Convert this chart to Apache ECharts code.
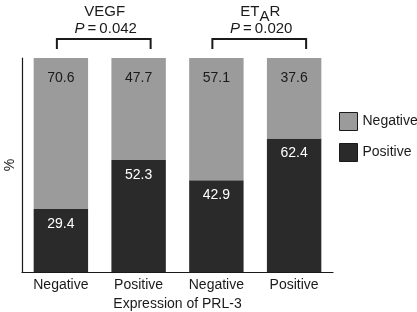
<!DOCTYPE html>
<html>
<head>
<meta charset="utf-8">
<script src="https://cdn.jsdelivr.net/npm/echarts@6/dist/echarts.min.js"></script>
<style>
  html, body { margin: 0; padding: 0; background: #fff; }
  #chart { width: 417px; height: 312px; }
</style>
</head>
<body>
<div id="chart"></div>
<script>
var categories = ['Negative', 'Positive', 'Negative', 'Positive'];
var positiveVals = [29.4, 52.3, 42.9, 62.4];
var negativeVals = [70.6, 47.7, 57.1, 37.6];
// brackets: [first bar index, second bar index, p-value text]
var groups = [
    { from: 0, to: 1, p: '0.042' },
    { from: 2, to: 3, p: '0.020' }
];

var FONT = 'Liberation Sans, Arial, sans-serif';
var GRAY = '#9b9b9b';
var DARK = '#2a2a2a';
var myChart = echarts.init(document.getElementById('chart'));

var option = {
    animation: false,
    textStyle: { fontFamily: FONT },
    legend: {
        data: ['Negative', 'Positive'],
        orient: 'vertical',
        left: 339,
        top: 112,
        padding: 0,
        icon: 'rect',
        itemWidth: 18,
        itemHeight: 18,
        itemGap: 12,
        itemStyle: { borderColor: '#1a1a1a', borderWidth: 1 },
        textStyle: { fontSize: 14, color: '#1a1a1a', fontFamily: FONT }
    },
    grid: {
        left: 22,
        right: 84,
        top: 58,
        bottom: 40,
        containLabel: false,
        outerBoundsMode: 'none'
    },
    xAxis: {
        type: 'category',
        data: categories,
        axisTick: { show: false },
        axisLine: { lineStyle: { color: '#1a1a1a', width: 1.2 } },
        axisLabel: { fontSize: 14, color: '#1a1a1a', margin: 6 },
        name: 'Expression of PRL-3',
        nameLocation: 'middle',
        nameGap: 24,
        nameTextStyle: { fontSize: 14, color: '#1a1a1a' }
    },
    yAxis: {
        type: 'value',
        min: 0,
        max: 100,
        splitLine: { show: false },
        axisTick: { show: false },
        axisLabel: { show: false },
        axisLine: { show: true, lineStyle: { color: '#1a1a1a', width: 1.2 } },
        name: '%',
        nameLocation: 'middle',
        nameGap: 5,
        nameRotate: 90,
        nameTextStyle: { fontSize: 14, color: '#1a1a1a' }
    },
    series: [{
        name: 'Positive',
        type: 'bar',
        stack: 'total',
        barWidth: '70%',
        itemStyle: { color: DARK },
        data: positiveVals,
        label: {
            show: true,
            position: 'insideTop',
            distance: 8,
            fontSize: 14,
            color: '#fff'
        }
    }, {
        name: 'Negative',
        type: 'bar',
        stack: 'total',
        barWidth: '70%',
        itemStyle: { color: GRAY },
        data: negativeVals,
        label: {
            show: true,
            position: 'insideTop',
            distance: 13,
            fontSize: 14,
            color: '#1a1a1a'
        }
    }]
};
myChart.setOption(option);

// brackets and titles placed from the category positions
var titles = ['{n|VEGF}', '{n|ET}{s|A}{n|R}'];
var graphics = [];
groups.forEach(function (g, i) {
    var x1 = myChart.convertToPixel({ xAxisIndex: 0 }, g.from) - 4;
    var x2 = myChart.convertToPixel({ xAxisIndex: 0 }, g.to) + 12;
    var mid = (x1 + x2) / 2;
    graphics.push({
        type: 'polyline',
        shape: { points: [[x1, 49], [x1, 39], [x2, 39], [x2, 49]] },
        style: { stroke: '#1a1a1a', lineWidth: 2, fill: null }
    });
    graphics.push({
        type: 'text',
        x: mid + 1,
        y: 12,
        style: {
            text: titles[i],
            align: 'center',
            verticalAlign: 'middle',
            rich: {
                n: { fontSize: 15, fontFamily: FONT, fill: '#1a1a1a' },
                s: { fontSize: 15, fontFamily: FONT, fill: '#1a1a1a', padding: [10, 0, 0, 0] }
            }
        }
    });
    graphics.push({
        type: 'text',
        x: mid + 2,
        y: 29,
        style: {
            text: '{i|P}{n|\u2009=\u2009' + g.p + '}',
            align: 'center',
            verticalAlign: 'middle',
            rich: {
                i: { fontSize: 15, fontFamily: FONT, fontStyle: 'italic', fill: '#1a1a1a' },
                n: { fontSize: 15, fontFamily: FONT, fill: '#1a1a1a' }
            }
        }
    });
});
myChart.setOption({ graphic: graphics });
</script>
</body>
</html>
